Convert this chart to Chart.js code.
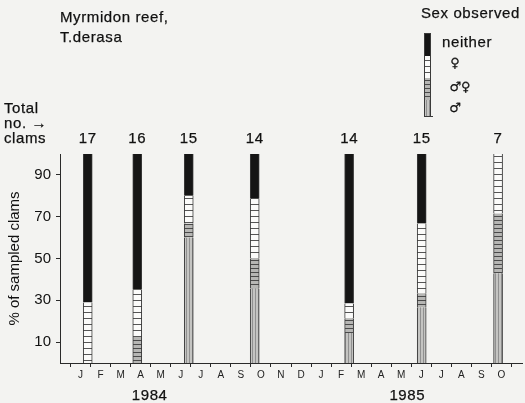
<!DOCTYPE html>
<html>
<head>
<meta charset="utf-8">
<script src="https://cdn.jsdelivr.net/npm/chart.js@4.4.1/dist/chart.umd.min.js"></script>
<style>
  body { margin: 0; background: #f3f3f1; }
  #wrap { width: 525px; height: 403px; }
</style>
</head>
<body>
<div id="wrap"><canvas id="clams" width="525" height="403"></canvas></div>
<script>
// sampling dates, in months from Jan 1984 (0 = J 1984)
let sampleMonth = [0.36, 2.83, 5.4, 8.69, 13.4, 17.02, 20.83];
let totalClams = [17, 16, 15, 14, 14, 15, 7];
// % of sampled clams, by sex observed
let pctMale = [0, 0, 60, 35.7, 14.3, 26.7, 42.9];
let pctBoth = [0, 12.5, 6.7, 14.3, 7.1, 6.7, 28.6];
let pctFemale = [29, 22.5, 13.3, 28.6, 7.1, 33.3, 28.5];
let pctNeither = [71, 65, 20, 21.4, 71.5, 33.3, 0];
let monthLabels = ['J', 'F', 'M', 'A', 'M', 'J', 'J', 'A', 'S', 'O', 'N', 'D',
                   'J', 'F', 'M', 'A', 'M', 'J', 'J', 'A', 'S', 'O'];
let yTicks = [10, 30, 50, 70, 90];

const FONT = '"Liberation Sans", Arial, sans-serif';
const INK = '#111';

function makePattern(w, h, draw) {
  let c = document.createElement('canvas');
  c.width = w;
  c.height = h;
  let g = c.getContext('2d');
  draw(g);
  return g.createPattern(c, 'repeat');
}

// male: light grey with thin vertical lines
let patMale = makePattern(3, 1, function(g) {
  g.fillStyle = '#c4c4c2';
  g.fillRect(0, 0, 3, 1);
  g.fillStyle = '#909090';
  g.fillRect(0, 0, 1, 1);
});
// male + female: grey with horizontal dark lines
let patBoth = makePattern(1, 4, function(g) {
  g.fillStyle = '#b6b6b4';
  g.fillRect(0, 0, 1, 4);
  g.fillStyle = '#4a4a4a';
  g.fillRect(0, 0, 1, 1);
});
// female: white boxes
let patFemale = makePattern(1, 6, function(g) {
  g.fillStyle = '#fbfbfa';
  g.fillRect(0, 0, 1, 6);
  g.fillStyle = '#555';
  g.fillRect(0, 0, 1, 1);
});
let fillNeither = '#151515';

function pts(arr) {
  let out = [];
  for(i = 0; i < arr.length; i++) {
    out.push({x: sampleMonth[i], y: arr[i]});
  }
  return out;
}

function dataset(label, arr, fill) {
  return {
    label: label,
    data: pts(arr),
    backgroundColor: fill,
    borderColor: '#3a3a3a',
    borderWidth: {left: 1, right: 1, top: 0, bottom: 0},
    borderSkipped: false,
    barThickness: 9
  };
}

function drawLegendBar(ctx) {
  let x = 424, w = 7;
  ctx.save();
  ctx.fillStyle = fillNeither;
  ctx.fillRect(x, 33, w, 23);
  ctx.fillStyle = patFemale;
  ctx.fillRect(x, 56, w, 22);
  ctx.fillStyle = patBoth;
  ctx.fillRect(x, 78, w, 22);
  ctx.fillStyle = patMale;
  ctx.fillRect(x, 100, w, 17);
  ctx.strokeStyle = '#3a3a3a';
  ctx.lineWidth = 1;
  ctx.strokeRect(x + 0.5, 33.5, w - 1, 83);
  ctx.beginPath();
  ctx.moveTo(x + w - 0.5, 116.5);
  ctx.lineTo(x + w + 2, 116.5);
  ctx.stroke();
  ctx.restore();
}

// scanned print looks a bit heavier than a plain fill
function inkText(ctx, s, x, y) {
  ctx.fillText(s, x, y);
  ctx.strokeText(s, x, y);
}

const textPlugin = {
  id: 'texts',
  afterDraw(chart) {
    let ctx = chart.ctx;
    let xs = chart.scales.x;
    ctx.save();
    ctx.fillStyle = INK;
    ctx.strokeStyle = INK;
    ctx.lineWidth = 0.25;
    ctx.letterSpacing = '0.6px';
    ctx.font = '15px ' + FONT;
    ctx.textAlign = 'left';
    ctx.textBaseline = 'alphabetic';
    inkText(ctx, 'Myrmidon reef,', 60, 22);
    inkText(ctx, 'T.derasa', 60, 42);
    inkText(ctx, 'Sex observed', 421, 18);
    inkText(ctx, 'neither', 442, 47);
    inkText(ctx, 'Total', 4, 113);
    inkText(ctx, 'no. \u2192', 4, 128);
    inkText(ctx, 'clams', 4, 143);

    ctx.textAlign = 'center';
    for(i = 0; i < totalClams.length; i++) {
      inkText(ctx, String(totalClams[i]), xs.getPixelForValue(sampleMonth[i]), 143);
    }
    inkText(ctx, '1984', xs.getPixelForValue(3.45), 400);
    inkText(ctx, '1985', xs.getPixelForValue(16.3), 400);

    ctx.letterSpacing = '0px';
    ctx.font = '13px "DejaVu Sans", sans-serif';
    inkText(ctx, '\u2640', 455, 67);
    inkText(ctx, '\u2642\u2640', 460, 91);
    inkText(ctx, '\u2642', 455, 112);
    ctx.restore();
    drawLegendBar(ctx);
  }
};

let chart = new Chart(document.getElementById('clams'), {
  type: 'bar',
  data: {
    datasets: [
      dataset('\u2642', pctMale, patMale),
      dataset('\u2642\u2640', pctBoth, patBoth),
      dataset('\u2640', pctFemale, patFemale),
      dataset('neither', pctNeither, fillNeither)
    ]
  },
  options: {
    responsive: false,
    animation: false,
    layout: { padding: { top: 154, right: 3, bottom: 0, left: 0 } },
    plugins: {
      legend: { display: false },
      tooltip: { enabled: false }
    },
    scales: {
      x: {
        type: 'linear',
        stacked: true,
        min: -0.5,
        max: 21.5,
        afterBuildTicks: function(scale) {
          let t = [];
          for(m = 0; m < monthLabels.length; m++) t.push({value: m});
          scale.ticks = t;
        },
        afterFit: function(scale) { scale.height = 40; },
        border: { color: '#2a2a2a', width: 1 },
        grid: { offset: true, drawOnChartArea: false, tickLength: 4, color: '#2a2a2a' },
        ticks: {
          autoSkip: false,
          maxRotation: 0,
          padding: 2,
          color: '#222',
          font: { family: FONT, size: 10 },
          callback: function(v) { return monthLabels[Math.round(v)]; }
        }
      },
      y: {
        stacked: true,
        min: 0,
        max: 100,
        afterBuildTicks: function(scale) {
          scale.ticks = yTicks.map(function(v) { return {value: v}; });
        },
        afterFit: function(scale) { scale.width = 60; },
        border: { color: '#2a2a2a', width: 1 },
        grid: { drawOnChartArea: false, tickLength: 4, color: '#2a2a2a' },
        ticks: {
          padding: 5,
          color: INK,
          font: { family: FONT, size: 15 }
        },
        title: {
          display: true,
          text: '% of sampled clams',
          color: INK,
          padding: { top: 6, bottom: 0 },
          font: { family: FONT, size: 15 }
        }
      }
    }
  },
  plugins: [textPlugin]
});
</script>
</body>
</html>
